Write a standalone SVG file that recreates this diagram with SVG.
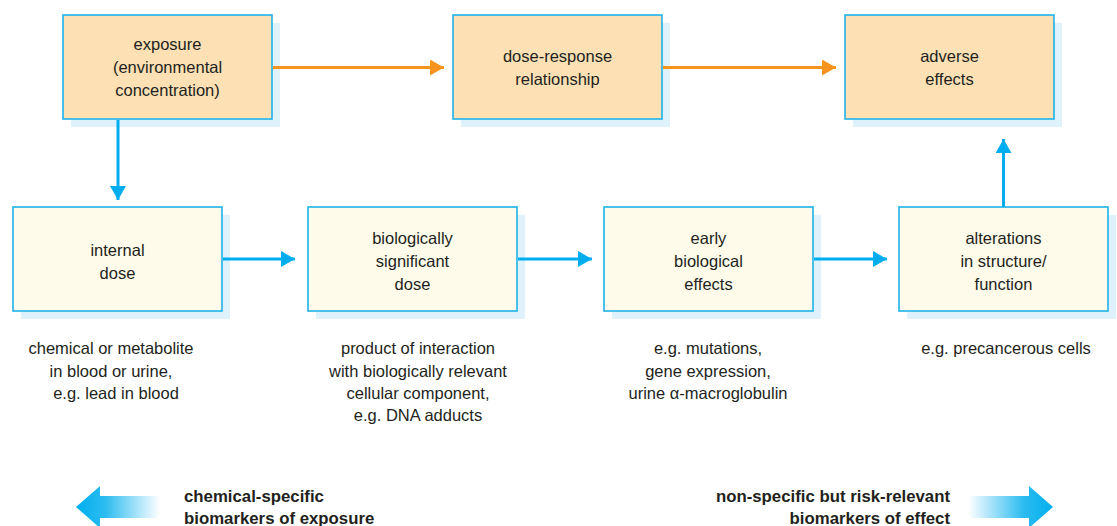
<svg xmlns="http://www.w3.org/2000/svg" width="1117" height="526" viewBox="0 0 1117 526">
<style>
.shadow{fill:#dff1fb;}
.top{fill:#fde1b5;stroke:#1fb3ea;stroke-width:1.6;}
.bot{fill:#fefbea;stroke:#1fb3ea;stroke-width:1.6;}
text{font-family:"Liberation Sans",Arial,sans-serif;font-size:16.5px;fill:#231f20;text-anchor:middle;}
.bold{font-weight:bold;font-size:16.8px;}
.orange{stroke:#f7941d;stroke-width:3;fill:none;}
.blue{stroke:#00aeef;stroke-width:3;fill:none;}
</style>
<defs>
<marker id="ao" markerUnits="userSpaceOnUse" markerWidth="14" markerHeight="16" refX="14" refY="8" orient="auto"><path d="M0,0 L14,8 L0,16 Z" fill="#f7941d"/></marker>
<marker id="ab" markerUnits="userSpaceOnUse" markerWidth="14" markerHeight="16" refX="14" refY="8" orient="auto"><path d="M0,0 L14,8 L0,16 Z" fill="#00aeef"/></marker>
<linearGradient id="gl" x1="0" y1="0" x2="1" y2="0"><stop offset="0" stop-color="#00aeef"/><stop offset="0.35" stop-color="#2dbcf0"/><stop offset="1" stop-color="#ffffff"/></linearGradient>
<linearGradient id="gr" x1="0" y1="0" x2="1" y2="0"><stop offset="0" stop-color="#ffffff"/><stop offset="0.65" stop-color="#2dbcf0"/><stop offset="1" stop-color="#00aeef"/></linearGradient>
</defs>

<g id="exposure">
<rect class="shadow" x="71" y="23" width="209" height="104"/>
<rect class="top" x="63" y="15" width="209" height="104"/>
<text x="167.5" y="50">exposure</text>
<text x="167.5" y="73">(environmental</text>
<text x="167.5" y="96">concentration)</text>
</g>
<g id="dose-response">
<rect class="shadow" x="461" y="23" width="209" height="104"/>
<rect class="top" x="453" y="15" width="209" height="104"/>
<text x="557.5" y="62">dose-response</text>
<text x="557.5" y="85">relationship</text>
</g>
<g id="adverse">
<rect class="shadow" x="853" y="23" width="209" height="104"/>
<rect class="top" x="845" y="15" width="209" height="104"/>
<text x="949.5" y="62">adverse</text>
<text x="949.5" y="85">effects</text>
</g>

<g id="internal-dose">
<rect class="shadow" x="21" y="215" width="209" height="104"/>
<rect class="bot" x="13" y="207" width="209" height="104"/>
<text x="117.5" y="256">internal</text>
<text x="117.5" y="279">dose</text>
<text x="111" y="354">chemical or metabolite</text>
<text x="111" y="377">in blood or urine,</text>
<text x="116" y="399">e.g. lead in blood</text>
</g>
<g id="bio-dose">
<rect class="shadow" x="316" y="215" width="209" height="104"/>
<rect class="bot" x="308" y="207" width="209" height="104"/>
<text x="412.5" y="244">biologically</text>
<text x="412.5" y="267">significant</text>
<text x="412.5" y="290">dose</text>
<text x="418" y="354">product of interaction</text>
<text x="418" y="377">with biologically relevant</text>
<text x="418" y="399">cellular component,</text>
<text x="418" y="421">e.g. DNA adducts</text>
</g>
<g id="early-effects">
<rect class="shadow" x="612" y="215" width="209" height="104"/>
<rect class="bot" x="604" y="207" width="209" height="104"/>
<text x="708.5" y="244">early</text>
<text x="708.5" y="267">biological</text>
<text x="708.5" y="290">effects</text>
<text x="708" y="354">e.g. mutations,</text>
<text x="708" y="377">gene expression,</text>
<text x="708" y="399">urine α-macroglobulin</text>
</g>
<g id="alterations">
<rect class="shadow" x="907" y="215" width="209" height="104"/>
<rect class="bot" x="899" y="207" width="209" height="104"/>
<text x="1003.5" y="244">alterations</text>
<text x="1003.5" y="267">in structure/</text>
<text x="1003.5" y="290">function</text>
<text x="1006" y="354">e.g. precancerous cells</text>
</g>

<g id="connectors">
<line class="orange" x1="273" y1="67.5" x2="444" y2="67.5" marker-end="url(#ao)"/>
<line class="orange" x1="663" y1="67.5" x2="836" y2="67.5" marker-end="url(#ao)"/>
<line class="blue" x1="118" y1="120" x2="118" y2="200" marker-end="url(#ab)"/>
<line class="blue" x1="223" y1="259" x2="295" y2="259" marker-end="url(#ab)"/>
<line class="blue" x1="518" y1="259" x2="592" y2="259" marker-end="url(#ab)"/>
<line class="blue" x1="814" y1="259" x2="887" y2="259" marker-end="url(#ab)"/>
<line class="blue" x1="1003.5" y1="207" x2="1003.5" y2="139" marker-end="url(#ab)"/>
</g>

<g id="legend-exposure">
<path d="M76,507 L100,486 L100,496 L160,496 L160,518 L100,518 L100,528 Z" fill="url(#gl)"/>
<text class="bold" x="184" y="502" style="text-anchor:start">chemical-specific</text>
<text class="bold" x="184" y="524" style="text-anchor:start">biomarkers of exposure</text>
</g>
<g id="legend-effect">
<path d="M1053,507 L1029,486 L1029,496 L968,496 L968,518 L1029,518 L1029,528 Z" fill="url(#gr)"/>
<text class="bold" x="950" y="502" style="text-anchor:end">non-specific but risk-relevant</text>
<text class="bold" x="950" y="524" style="text-anchor:end">biomarkers of effect</text>
</g>
</svg>
